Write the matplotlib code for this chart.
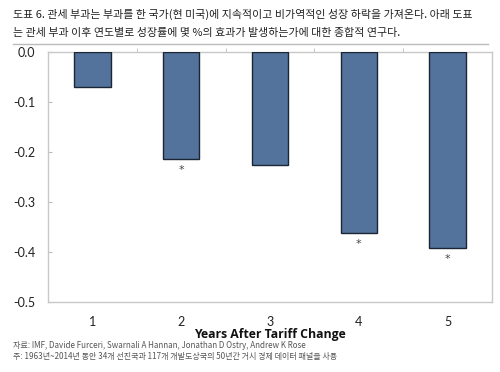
import matplotlib
matplotlib.use("Agg")
import matplotlib.pyplot as plt
from matplotlib.lines import Line2D

years = [1, 2, 3, 4, 5]
values = [-0.070, -0.214, -0.226, -0.362, -0.392]
significant = [False, True, False, True, True]
ytick_vals = [0.0, -0.1, -0.2, -0.3, -0.4, -0.5]
ytick_labels = ["0.0", "-0.1", "-0.2", "-0.3", "-0.4", "-0.5"]
title_lines = ["도표 6. 관세 부과는 부과를 한 국가(현 미국)에 지속적이고 비가역적인 성장 하락을 가져온다. 아래 도표",
               "는 관세 부과 이후 연도별로 성장률에 몇 %의 효과가 발생하는가에 대한 종합적 연구다."]
xlabel = "Years After Tariff Change"
notes = ["자료: IMF, Davide Furceri, Swarnali A Hannan, Jonathan D Ostry, Andrew K Rose",
         "주: 1963년~2014년 동안 34개 선진국과 117개 개발도상국의 50년간 거시 경제 데이터 패널을 사용"]

kr = ["Noto Sans CJK KR", "DejaVu Sans"]

fig = plt.figure(figsize=(5.0, 3.72), dpi=100)
ax = fig.add_axes([0.096, 0.188, 0.888, 0.672])

ax.bar(years, values, width=0.41, color="#53739d", edgecolor="#1b2533", linewidth=1.0, zorder=3)
for x, v, s in zip(years, values, significant):
    if s:
        ax.annotate("*", (x, v), xytext=(0, -8), textcoords="offset points",
                    ha="center", va="center", fontsize=8, color="#444444")

ax.set_xlim(0.5, 5.5)
ax.set_ylim(-0.5, 0.0)
ax.set_xticks(years)
ax.set_xticklabels([str(y) for y in years], family="Lato", fontsize=9, color="#222222")
ax.set_yticks(ytick_vals)
ax.set_yticklabels(ytick_labels, family="Lato", fontsize=9, color="#222222")
ax.set_xticks([1.5, 2.5, 3.5, 4.5], minor=True)
ax.tick_params(axis="x", which="major", length=0, pad=10)
ax.tick_params(axis="x", which="minor", bottom=False, top=True, direction="out", length=3, color="#bbbbbb")
ax.tick_params(axis="y", which="major", direction="in", length=3, color="#bbbbbb", pad=9)
for sp in ["top", "left", "bottom", "right"]:
    ax.spines[sp].set_color("#c8c8c8")
    ax.spines[sp].set_linewidth(1.0)
ax.set_xlabel(xlabel, family="Open Sans", fontweight="bold", fontsize=8.8, color="#111111", labelpad=0)

fig.text(0.026, 1 - 14/372, title_lines[0], family=kr, fontsize=7.9, color="#222222", va="center", ha="left")
fig.text(0.026, 1 - 33/372, title_lines[1], family=kr, fontsize=7.9, color="#222222", va="center", ha="left")
fig.add_artist(Line2D([0.026, 0.976], [1 - 44/372, 1 - 44/372], color="#bbbbbb", linewidth=1.0, transform=fig.transFigure))

fig.text(0.026, 1 - 345/372, notes[0], family=kr, fontsize=5.8, color="#555555", va="center", ha="left")
fig.text(0.026, 1 - 357/372, notes[1], family=kr, fontsize=5.8, color="#555555", va="center", ha="left")

fig.savefig("out.png", dpi=100)
